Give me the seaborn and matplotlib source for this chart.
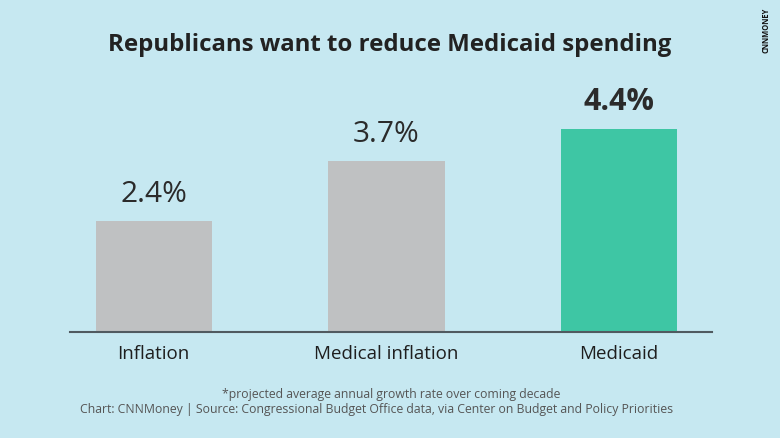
import pandas as pd
import matplotlib.pyplot as plt
import seaborn as sns

# data
categories = ['Inflation', 'Medical inflation', 'Medicaid']
growth = [2.4, 3.7, 4.4]
value_labels = ['2.4%', '3.7%', '4.4%']
bar_colors = ['#bfc1c2', '#bfc1c2', '#3ec6a4']

df = pd.DataFrame({'category': categories, 'growth': growth})

bg = '#c6e8f1'
sns.set_style('white')
plt.rcParams['font.family'] = ['Open Sans', 'DejaVu Sans']

fig = plt.figure(figsize=(7.8, 4.39), dpi=100, facecolor=bg)
ax = fig.add_axes([70 / 780, (439 - 333) / 439, 642 / 780, (333 - 101.75) / 439])
ax.set_facecolor(bg)

sns.barplot(data=df, x='category', y='growth', hue='category', palette=bar_colors,
            width=0.5, legend=False, ax=ax, saturation=1, linewidth=0, edgecolor='none')

ax.set_xlim(-0.36, 2.4)
ax.set_ylim(0, 5)
for i, (v, lab) in enumerate(zip(growth, value_labels)):
    bold = i == len(growth) - 1
    ax.text(i, v + 0.28, lab, ha='center', va='bottom',
            fontsize=22 if bold else 21.5,
            fontweight='bold' if bold else 'normal',
            color='#2b2b2b')

sns.despine(ax=ax, left=True, top=True, right=True)
ax.spines['bottom'].set_color('#505a60')
ax.spines['bottom'].set_linewidth(1.5)
ax.set_yticks([])
ax.set_xlabel('')
ax.set_ylabel('')
ax.tick_params(axis='x', length=0, labelsize=13.5, labelcolor='#1e1e1e', pad=8.5)

fig.text(0.5, 1 - 45 / 439, 'Republicans want to reduce Medicaid spending',
         ha='center', va='center', fontsize=17.3, fontweight='bold', color='#222222')
fig.text(391 / 780, 1 - 395 / 439, '*projected average annual growth rate over coming decade',
         ha='center', va='center', fontsize=8.8, color='#555555')
fig.text(377 / 780, 1 - 410 / 439,
         'Chart: CNNMoney | Source: Congressional Budget Office data, via Center on Budget and Policy Priorities',
         ha='center', va='center', fontsize=8.8, color='#555555')
fig.text(766 / 780, 1 - 30 / 439, 'CNNMONEY', rotation=90, ha='center', va='center',
         fontsize=5.5, fontweight='bold', color='#111111')

fig.savefig('out.png', dpi=100, facecolor=bg)
